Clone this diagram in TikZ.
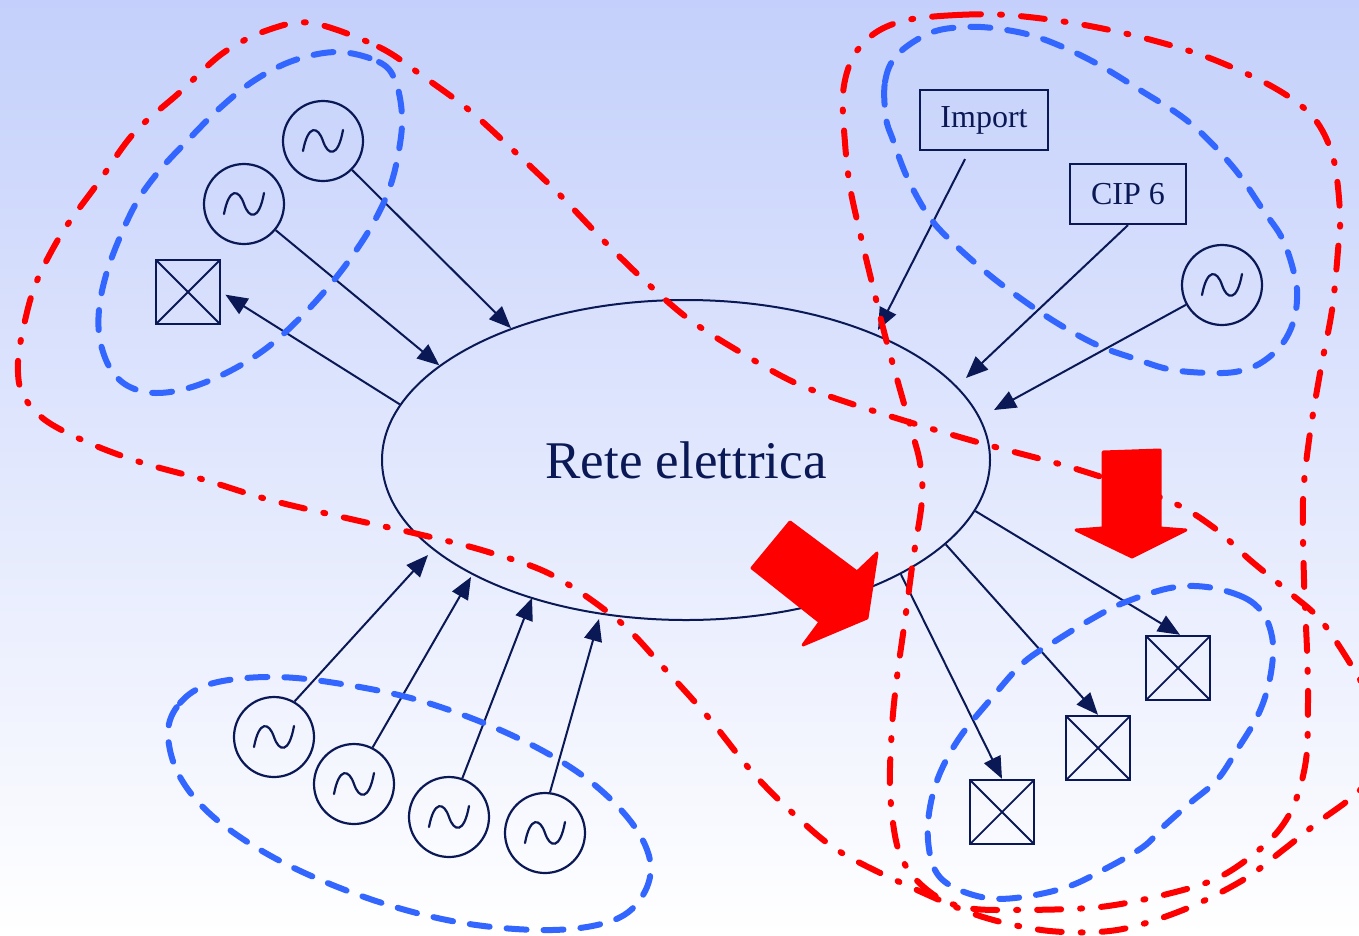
\documentclass[tikz,border=0pt]{standalone}
\usepackage{fontspec}
\setmainfont{Liberation Serif}
\usetikzlibrary{shapes.geometric,arrows.meta}
\definecolor{navy}{RGB}{10,25,85}
\definecolor{bgtop}{RGB}{196,208,251}
\definecolor{loopblue}{RGB}{51,102,255}
\definecolor{loopred}{RGB}{255,0,0}
\begin{document}
\begin{tikzpicture}[x=1pt,y=-1pt,
  gen/.style={circle,draw=navy,line width=2.2pt,minimum size=80pt,inner sep=0pt},
  load/.style={rectangle,draw=navy,line width=2.4pt,minimum size=64pt,inner sep=0pt,
    path picture={\draw[navy,line width=1.8pt] (path picture bounding box.north west) -- (path picture bounding box.south east)
      (path picture bounding box.north east) -- (path picture bounding box.south west);}},
  tagbox/.style={rectangle,draw=navy,line width=2.2pt,minimum height=60pt,inner sep=0pt,text=navy,font=\fontsize{32}{38}\selectfont},
  conn/.style={draw=navy,line width=2pt,-{Triangle[length=22pt,width=18pt]}},
  sine/.style={draw=navy,line width=2.2pt,line cap=round},
  blueloop/.style={draw=loopblue,line width=6pt,line cap=round,dash pattern=on 20pt off 17pt},
  redloop/.style={draw=loopred,line width=6pt,line cap=round,dash pattern=on 24pt off 19pt on 2pt off 19pt},
  bigarrow/.style={fill=loopred,draw=loopred,line width=3pt,line join=round}]
\useasboundingbox (0,0) rectangle (1359,935);
\shade[top color=bgtop,bottom color=white] (0,0) rectangle (1359,935);
\clip (0,0) rectangle (1359,935);

% central network
\node[ellipse,draw=navy,line width=2pt,minimum width=608pt,minimum height=320pt,inner sep=0pt,
  text=navy,font=\fontsize{53}{60}\selectfont] (E) at (686,460) {Rete elettrica};

% generators
\node[gen] (G1) at (323,141) {};
\node[gen] (G2) at (244,204) {};
\node[gen] (G3) at (1222,285) {};
\node[gen] (G4) at (274,737) {};
\node[gen] (G5) at (354,784) {};
\node[gen] (G6) at (449,817) {};
\node[gen] (G7) at (545,833) {};
\foreach \n in {G1,G2,G3,G4,G5,G6,G7}{
  \begin{scope}[shift={(\n.center)}]
    \draw[sine] (-20,10) .. controls (-15,-17) and (-5,-15) .. (0,0) .. controls (5,15) and (15,17) .. (20,-11);
  \end{scope}
}

% loads
\node[load] (L1) at (188,292) {};
\node[load] (L2) at (1178,668) {};
\node[load] (L3) at (1098,748) {};
\node[load] (L4) at (1002,812) {};

% labelled sources
\node[tagbox,minimum width=128pt] (Imp) at (984,120) {Import};
\node[tagbox,minimum width=116pt] (CIP) at (1128,194) {CIP 6};

% free arrow tips near the network
\coordinate (a4) at (878,330);
\coordinate (a5) at (966,378);
\coordinate (a6) at (994,410);
\coordinate (b1) at (428,555);
\coordinate (b2) at (471,577);
\coordinate (b3) at (532,598);
\coordinate (b4) at (599,619);

% connectors
\draw[conn] (G1) -- (E.143.4);
\draw[conn] (G2) -- (E.159.2);
\draw[conn,shorten >=5pt] (E.169.4) -- (L1.east);
\draw[conn] ([shift={(-19,8)}]Imp.south) -- (a4);
\draw[conn] (CIP.south) -- (a5);
\draw[conn] (G3) -- (a6);
\draw[conn] (E.-10.6) -- ([xshift=2pt]L2.north);
\draw[conn] (E.-18.4) -- (L3.north);
\draw[conn] (E.-28.5) -- (L4.north);
\draw[conn] (G4.60) -- (b1);
\draw[conn] (G5.63) -- (b2);
\draw[conn] (G6.71) -- (b3);
\draw[conn] (G7.83) -- (b4);

% blue groups
\draw[blueloop] plot[smooth cycle,tension=0.6] coordinates {
 (339,52) (379,62) (395,80) (402,115) (399,150) (390,187) (375,220) (355,252) (330,285) (300,318)
 (268,347) (232,370) (192,387) (156,393) (128,386) (110,368) (100,340) (99,310) (106,275) (120,237)
 (138,200) (160,170) (188,140) (220,108) (255,80) (295,60)};
\draw[blueloop] plot[smooth cycle,tension=0.6] coordinates {
 (886,118) (885,82) (897,55) (930,33) (965,27) (1000,29) (1040,38) (1090,60) (1140,90) (1190,123)
 (1233,167) (1263,210) (1283,240) (1295,277) (1297,300) (1293,323) (1283,343) (1268,358) (1250,368)
 (1223,373) (1173,370) (1133,358) (1097,345) (1057,323) (1020,298) (987,273) (950,240) (928,215)
 (907,177) (893,140)};
\draw[blueloop] plot[smooth cycle,tension=0.6] coordinates {
 (1207,587) (1243,597) (1262,612) (1271,632) (1273,655) (1268,687) (1257,717) (1237,750) (1217,780)
 (1190,803) (1163,827) (1143,847) (1103,870) (1067,887) (1023,897) (987,898) (953,887) (935,870)
 (928,840) (930,807) (940,773) (960,737) (990,700) (1023,663) (1057,640) (1090,620) (1123,603) (1170,588)};
\draw[blueloop] plot[smooth cycle,tension=0.6] coordinates {
 (168,733) (180,703) (210,684) (266,677) (329,682) (418,700) (507,733) (579,773) (628,818) (650,860)
 (643,895) (614,920) (552,930) (463,923) (373,900) (284,863) (217,820) (180,777)};

% red groups
\draw[redloop] plot[smooth cycle,tension=0.55] coordinates {
 (312,23) (379,47) (424,77) (469,110) (513,150) (558,193) (603,240) (647,283) (690,320) (740,352)
 (800,385) (880,413) (977,442) (1073,468) (1167,500) (1213,527) (1250,560) (1290,593) (1323,623)
 (1362,683) (1392,740) (1362,788) (1317,823) (1283,850) (1243,880) (1183,910) (1117,930) (1050,931)
 (983,917) (917,890) (842,853) (797,817) (753,773) (708,717) (663,667) (619,621) (552,575) (485,551)
 (418,534) (355,520) (270,500) (205,480) (143,463) (89,443) (45,420) (22,393) (18,362) (24,325)
 (36,283) (62,233) (98,183) (134,133) (179,93) (223,53) (268,30)};
\draw[redloop] plot[smooth cycle,tension=0.55] coordinates {
 (907,20) (957,15) (1007,15) (1073,23) (1140,37) (1207,57) (1273,87) (1313,117) (1333,157) (1340,213)
 (1338,250) (1332,310) (1320,373) (1309,440) (1303,500) (1304,580) (1307,650) (1308,700) (1306,760)
 (1293,807) (1270,840) (1227,873) (1183,890) (1100,907) (1000,910) (963,907) (937,897) (912,875)
 (897,845) (890,790) (892,727) (897,677) (905,620) (913,560) (922,500) (920,463) (910,425) (887,343)
 (873,287) (860,233) (850,187) (845,143) (843,93) (853,57) (875,33)};

% big red arrows
\fill[bigarrow] (790,522) -- (752,568) -- (820,622) -- (803,645) -- (867,618) -- (877,553) -- (857,572) -- cycle;
\fill[bigarrow] (1103,452) -- (1160,450) -- (1160,528) -- (1186,530) -- (1132,557) -- (1076,530) -- (1103,528) -- cycle;
\end{tikzpicture}
\end{document}
